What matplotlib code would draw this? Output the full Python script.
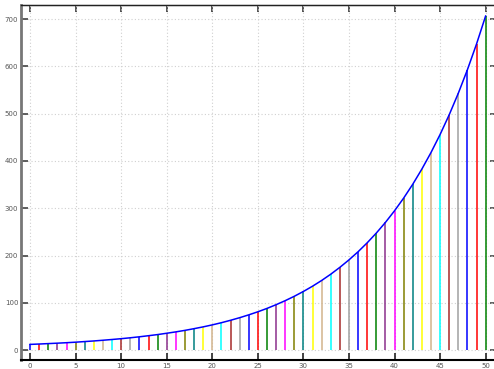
import matplotlib
matplotlib.use("Agg")
import matplotlib.pyplot as plt

x_vals = list(range(51))
y_vals = [12.0, 12.8, 13.7, 14.6, 15.6, 16.7, 18.0, 19.3, 20.8, 22.4,
          24.1, 26.0, 28.1, 30.4, 32.8, 35.6, 38.5, 41.7, 45.3, 49.1,
          53.3, 57.9, 63.0, 68.5, 74.5, 81.0, 88.1, 96.0, 104.5, 113.8,
          124.0, 135.1, 147.2, 160.5, 175.0, 190.8, 208.0, 226.9, 247.5, 270.0,
          294.6, 321.4, 350.7, 382.8, 417.7, 455.9, 497.6, 543.2, 593.0, 647.3,
          706.7]
stem_colors = ['#0000ff', '#ff0000', '#008000', '#8b2f8b', '#ff00ff', '#808000',
               '#008080', '#ffff00', '#d2b48c', '#00ffff', '#a52a2a', '#a0a0a0']
x_ticks = [0, 5, 10, 15, 20, 25, 30, 35, 40, 45, 50]
y_ticks = [0, 100, 200, 300, 400, 500, 600, 700]

W, H = 494, 369
fig = plt.figure(figsize=(W / 100, H / 100), dpi=100)
ax = fig.add_axes([21 / W, 9 / H, (497 - 21) / W, (360 - 5) / H])

cols = [stem_colors[i % len(stem_colors)] for i in range(len(x_vals))]
ax.vlines(x_vals, 0, y_vals, colors=cols, linewidth=1.1, zorder=2)
ax.plot(x_vals, y_vals, color='#0000ff', linewidth=1.1, zorder=3)

ax.set_xlim(-1.0, 51.25)
ax.set_ylim(-21, 730)
ax.set_xticks(x_ticks)
ax.set_yticks(y_ticks)
ax.grid(True, linestyle=(0, (1, 2)), color='#d0d0d0', linewidth=0.8, zorder=0)
ax.set_axisbelow(True)

ax.tick_params(axis='x', direction='in', length=5, width=1.2, colors='#222222',
               labelsize=5, labelcolor='#555555', pad=2)
ax.tick_params(axis='y', direction='in', length=5, width=1.2, colors='#444444',
               labelsize=5, labelcolor='#555555', pad=2)

for s in ['top', 'right']:
    ax.spines[s].set_linewidth(1.0)
    ax.spines[s].set_color('#222222')
ax.spines['bottom'].set_linewidth(1.5)
ax.spines['bottom'].set_color('#000000')
ax.spines['left'].set_linewidth(2.0)
ax.spines['left'].set_color('#777777')

top = ax.secondary_xaxis('top')
top.set_xticks(x_ticks)
top.tick_params(direction='in', length=5, width=1.2, colors='#333333', labeltop=False)
top.set_xticklabels([])
right = ax.secondary_yaxis('right')
right.set_yticks(y_ticks)
right.tick_params(direction='in', length=5, width=1.2, colors='#444444', labelright=False)
right.set_yticklabels([])

fig.savefig('out.png', dpi=100)
